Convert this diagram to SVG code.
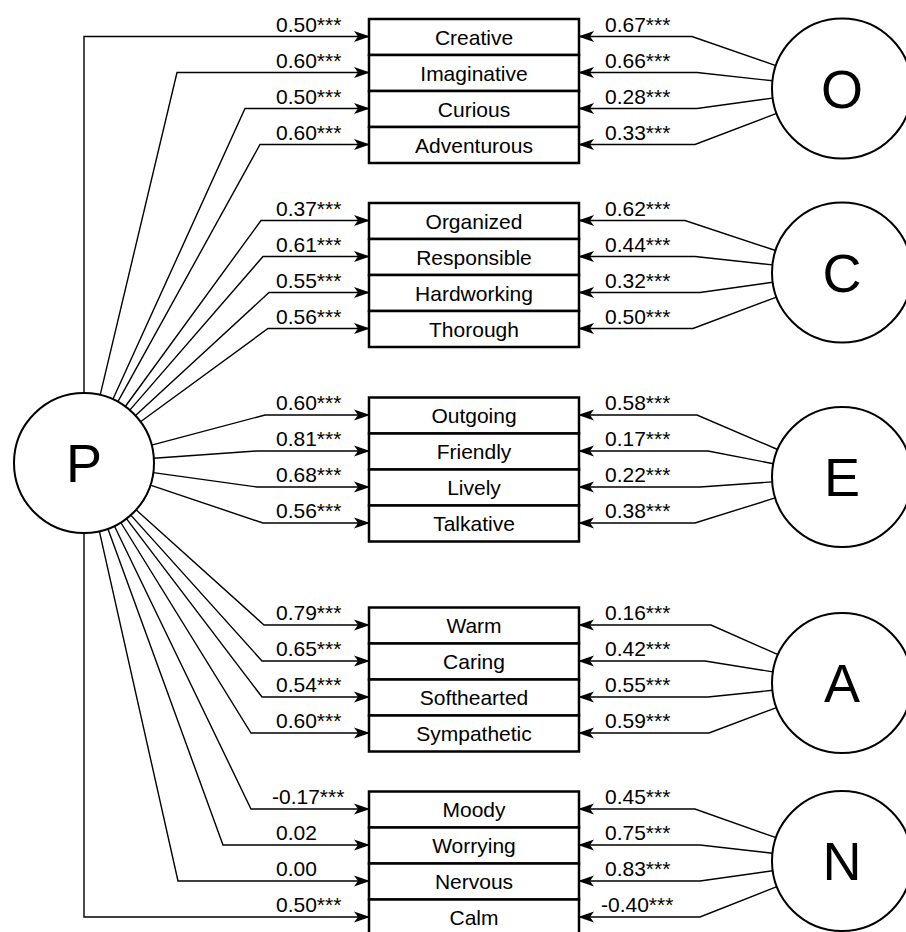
<svg xmlns="http://www.w3.org/2000/svg" width="906" height="932" viewBox="0 0 906 932">
<defs>
<marker id="ah" markerUnits="userSpaceOnUse" markerWidth="16" markerHeight="12" viewBox="0 0 16 12" refX="15" refY="6" orient="auto">
<path d="M0,0.5 L16,6 L0,11.5 L4,6 z" fill="#000"/>
</marker>
<style>
.c{fill:none;stroke:#000;stroke-width:1.4;marker-end:url(#ah)}
.b{fill:#fff;stroke:#000;stroke-width:2.5}
.lv{fill:#fff;stroke:#000;stroke-width:2}
.t{font-family:"Liberation Sans",Arial,sans-serif;font-size:21px;fill:#000}
.m{text-anchor:middle}
.big{font-family:"Liberation Sans",Arial,sans-serif;font-size:54px;fill:#000;text-anchor:middle}
</style>
</defs>
<rect width="906" height="932" fill="#fff"/>
<g id="connectors">
<path class="c" d="M84,393 L84,36.5 L369,36.5"/>
<path class="c" d="M100.2,394.9 L177,72.5 L369,72.5"/>
<path class="c" d="M112.9,399.3 L245,108.5 L369,108.5"/>
<path class="c" d="M117.9,401.7 L260,144.5 L369,144.5"/>
<path class="c" d="M125.3,406.5 L261,220.5 L369,220.5"/>
<path class="c" d="M129.8,410.1 L263,256.5 L369,256.5"/>
<path class="c" d="M135.5,415.6 L269,292.5 L369,292.5"/>
<path class="c" d="M140.5,421.7 L268,328.5 L369,328.5"/>
<path class="c" d="M151.6,445.1 L265,415 L369,415"/>
<path class="c" d="M153.8,458.2 L257,451 L369,451"/>
<path class="c" d="M153.3,472.6 L257,487 L369,487"/>
<path class="c" d="M150.4,485.2 L263,523 L369,523"/>
<path class="c" d="M136,509.8 L264,625 L369,625"/>
<path class="c" d="M130.8,515.1 L262,661 L369,661"/>
<path class="c" d="M126.4,518.7 L262,697 L369,697"/>
<path class="c" d="M120.8,522.5 L251,733 L369,733"/>
<path class="c" d="M114.4,526 L251,809 L369,809"/>
<path class="c" d="M107.9,528.8 L223,845 L369,845"/>
<path class="c" d="M99.4,531.3 L178,881 L369,881"/>
<path class="c" d="M84,533 L84,917 L369,917"/>
<path class="c" d="M775.9,65.6 L692,36.5 L579,36.5"/>
<path class="c" d="M772.4,80.8 L697,72.5 L579,72.5"/>
<path class="c" d="M772.7,98.1 L697,108.5 L579,108.5"/>
<path class="c" d="M776.6,113.4 L695,144.5 L579,144.5"/>
<path class="c" d="M775.6,250.5 L685,220.5 L579,220.5"/>
<path class="c" d="M772.4,264.9 L695,256.5 L579,256.5"/>
<path class="c" d="M772.7,282.3 L700,292.5 L579,292.5"/>
<path class="c" d="M776.5,297.1 L693,328.5 L579,328.5"/>
<path class="c" d="M777.6,449.5 L697,415 L579,415"/>
<path class="c" d="M773.3,463.7 L708,451 L579,451"/>
<path class="c" d="M772.2,481.9 L700,487 L579,487"/>
<path class="c" d="M775.2,497.9 L695,523 L579,523"/>
<path class="c" d="M778,654.7 L711,625 L579,625"/>
<path class="c" d="M772.9,671.9 L705,661 L579,661"/>
<path class="c" d="M772.4,690.3 L708,697 L579,697"/>
<path class="c" d="M776.5,707.6 L709,733 L579,733"/>
<path class="c" d="M776,837.7 L695,809 L579,809"/>
<path class="c" d="M772.4,853.2 L700,845 L579,845"/>
<path class="c" d="M772.7,870.8 L700,881 L579,881"/>
<path class="c" d="M776.9,886.7 L700,917 L579,917"/>
</g>
<g id="edge-labels" class="t">
<text x="276" y="31.5">0.50***</text>
<text x="276" y="67.5">0.60***</text>
<text x="276" y="103.5">0.50***</text>
<text x="276" y="139.5">0.60***</text>
<text x="276" y="215.5">0.37***</text>
<text x="276" y="251.5">0.61***</text>
<text x="276" y="287.5">0.55***</text>
<text x="276" y="323.5">0.56***</text>
<text x="276" y="410">0.60***</text>
<text x="276" y="446">0.81***</text>
<text x="276" y="482">0.68***</text>
<text x="276" y="518">0.56***</text>
<text x="276" y="620">0.79***</text>
<text x="276" y="656">0.65***</text>
<text x="276" y="692">0.54***</text>
<text x="276" y="728">0.60***</text>
<text x="272" y="804">-0.17***</text>
<text x="276" y="840">0.02</text>
<text x="276" y="876">0.00</text>
<text x="276" y="912">0.50***</text>
<text x="605" y="31.5">0.67***</text>
<text x="605" y="67.5">0.66***</text>
<text x="605" y="103.5">0.28***</text>
<text x="605" y="139.5">0.33***</text>
<text x="605" y="215.5">0.62***</text>
<text x="605" y="251.5">0.44***</text>
<text x="605" y="287.5">0.32***</text>
<text x="605" y="323.5">0.50***</text>
<text x="605" y="410">0.58***</text>
<text x="605" y="446">0.17***</text>
<text x="605" y="482">0.22***</text>
<text x="605" y="518">0.38***</text>
<text x="605" y="620">0.16***</text>
<text x="605" y="656">0.42***</text>
<text x="605" y="692">0.55***</text>
<text x="605" y="728">0.59***</text>
<text x="605" y="804">0.45***</text>
<text x="605" y="840">0.75***</text>
<text x="605" y="876">0.83***</text>
<text x="601" y="912">-0.40***</text>
</g>
<g id="creative"><rect class="b" x="369" y="19" width="210" height="36"/><text class="t m" x="474" y="44.5">Creative</text></g>
<g id="imaginative"><rect class="b" x="369" y="55" width="210" height="36"/><text class="t m" x="474" y="80.5">Imaginative</text></g>
<g id="curious"><rect class="b" x="369" y="91" width="210" height="36"/><text class="t m" x="474" y="116.5">Curious</text></g>
<g id="adventurous"><rect class="b" x="369" y="127" width="210" height="36"/><text class="t m" x="474" y="152.5">Adventurous</text></g>
<g id="organized"><rect class="b" x="369" y="203" width="210" height="36"/><text class="t m" x="474" y="228.5">Organized</text></g>
<g id="responsible"><rect class="b" x="369" y="239" width="210" height="36"/><text class="t m" x="474" y="264.5">Responsible</text></g>
<g id="hardworking"><rect class="b" x="369" y="275" width="210" height="36"/><text class="t m" x="474" y="300.5">Hardworking</text></g>
<g id="thorough"><rect class="b" x="369" y="311" width="210" height="36"/><text class="t m" x="474" y="336.5">Thorough</text></g>
<g id="outgoing"><rect class="b" x="369" y="397.5" width="210" height="36"/><text class="t m" x="474" y="423">Outgoing</text></g>
<g id="friendly"><rect class="b" x="369" y="433.5" width="210" height="36"/><text class="t m" x="474" y="459">Friendly</text></g>
<g id="lively"><rect class="b" x="369" y="469.5" width="210" height="36"/><text class="t m" x="474" y="495">Lively</text></g>
<g id="talkative"><rect class="b" x="369" y="505.5" width="210" height="36"/><text class="t m" x="474" y="531">Talkative</text></g>
<g id="warm"><rect class="b" x="369" y="607.5" width="210" height="36"/><text class="t m" x="474" y="633">Warm</text></g>
<g id="caring"><rect class="b" x="369" y="643.5" width="210" height="36"/><text class="t m" x="474" y="669">Caring</text></g>
<g id="softhearted"><rect class="b" x="369" y="679.5" width="210" height="36"/><text class="t m" x="474" y="705">Softhearted</text></g>
<g id="sympathetic"><rect class="b" x="369" y="715.5" width="210" height="36"/><text class="t m" x="474" y="741">Sympathetic</text></g>
<g id="moody"><rect class="b" x="369" y="791.5" width="210" height="36"/><text class="t m" x="474" y="817">Moody</text></g>
<g id="worrying"><rect class="b" x="369" y="827.5" width="210" height="36"/><text class="t m" x="474" y="853">Worrying</text></g>
<g id="nervous"><rect class="b" x="369" y="863.5" width="210" height="36"/><text class="t m" x="474" y="889">Nervous</text></g>
<g id="calm"><rect class="b" x="369" y="899.5" width="210" height="36"/><text class="t m" x="474" y="925">Calm</text></g>
<g id="P"><circle class="lv" cx="84" cy="463" r="70"/><text class="big" x="84" y="482.3">P</text></g>
<g id="O"><circle class="lv" cx="842" cy="88.5" r="70"/><text class="big" x="842" y="107.8">O</text></g>
<g id="C"><circle class="lv" cx="842" cy="272.5" r="70"/><text class="big" x="842" y="291.8">C</text></g>
<g id="E"><circle class="lv" cx="842" cy="477" r="70"/><text class="big" x="842" y="496.3">E</text></g>
<g id="A"><circle class="lv" cx="842" cy="683" r="70"/><text class="big" x="842" y="702.3">A</text></g>
<g id="N"><circle class="lv" cx="842" cy="861" r="70"/><text class="big" x="842" y="880.3">N</text></g>
</svg>
